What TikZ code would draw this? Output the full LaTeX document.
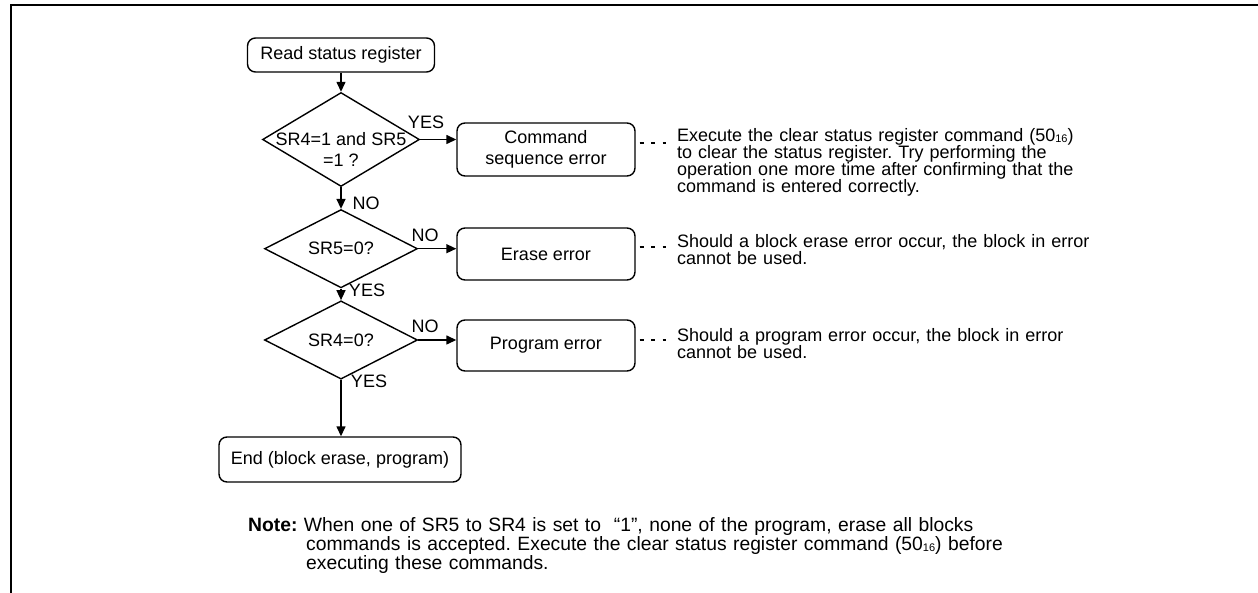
\documentclass[tikz,border=0pt]{standalone}
\usepackage{fontspec}
\setmainfont{Liberation Sans}
\usetikzlibrary{shapes.geometric,arrows.meta}
\newcommand\subnum[1]{{\fontsize{11}{11}\selectfont\raisebox{-1pt}{#1}}}
\frenchspacing
\begin{document}
\begin{tikzpicture}[x=1pt,y=-1pt,
  font=\fontsize{18}{21}\selectfont,
  flowbox/.style={draw, line width=1.4pt, rounded corners=8pt, inner sep=0pt, align=center, font=\fontsize{18}{21}\selectfont},
  decision/.style={draw, diamond, line width=1.4pt, inner sep=0pt},
  arr/.style={line width=1.4pt, -{Triangle[length=10pt,width=9pt]}},
  dots/.style={line width=2.2pt, dash pattern=on 4pt off 7.5pt},
  lbl/.style={inner sep=0pt},
  desc/.style={anchor=base west, inner sep=0pt, text width=560pt, align=left, font=\fontsize{18}{17}\selectfont, execute at begin node={\lineskiplimit=-20pt}}
]
\useasboundingbox (0,0) rectangle (1258,593);
\draw[line width=2pt] (10.5,593) -- (10.5,5.5) -- (1258,5.5);

\node[flowbox, minimum width=187pt, minimum height=34pt] (read) at (341,55) {Read status register};
\node[decision, minimum width=157pt, minimum height=94pt] (d1) at (341,139.5) {};
\node[lbl, align=center, font=\fontsize{18}{21}\selectfont] (d1t) at (341,149) {SR4=1 and SR5\\=1 ?};
\node[flowbox, minimum width=178pt, minimum height=53pt] (cmd) at (546,149.5) {Command\\sequence error};
\node[desc] (desc1) at (677,142) {Execute the clear status register command (50\subnum{16})\\to clear the status register. Try performing the\\operation one more time after confirming that the\\command is entered correctly.};

\node[decision, minimum width=153pt, minimum height=57pt] (d2) at (341,248.7) {SR5=0?};
\node[flowbox, minimum width=178pt, minimum height=52pt] (erase) at (546,254) {Erase error};
\node[desc] (desc2) at (677,248) {Should a block erase error occur, the block in error\\cannot be used.};

\node[decision, minimum width=153pt, minimum height=57pt] (d3) at (341,340) {SR4=0?};
\node[flowbox, minimum width=178pt, minimum height=51pt] (prog) at (546,345.5) {Program error};
\node[desc] (desc3) at (677,341.5) {Should a program error occur, the block in error\\cannot be used.};

\node[flowbox, minimum width=242pt, minimum height=45pt] (end) at (340,459.5) {End (block erase, program)};

\draw[arr] (read.south) -- (d1.north);
\draw[arr] (d1.east) -- (d1.east -| cmd.west);
\draw[arr] (d1.south) -- (d2.north);
\draw[arr] (d2.east) -- (d2.east -| erase.west);
\draw[arr] (d2.south) -- (d3.north);
\draw[arr] (d3.east) -- (d3.east -| prog.west);
\draw[arr] (d3.south) -- (d3.south |- end.north);

\coordinate (c1) at (666,143);
\coordinate (c2) at (666,247);
\coordinate (c3) at (666,340);
\draw[dots] ([xshift=4pt]cmd.east |- c1) -- (c1);
\draw[dots] ([xshift=4pt]erase.east |- c2) -- (c2);
\draw[dots] ([xshift=4pt]prog.east |- c3) -- (c3);

\node[lbl] (yes1) at (426,122) {YES};
\node[lbl] (no1) at (366,203) {NO};
\node[lbl] (no2) at (425,235) {NO};
\node[lbl] (yes2) at (367,290) {YES};
\node[lbl] (no3) at (425,326.5) {NO};
\node[lbl] (yes3) at (369,381.5) {YES};

\node[anchor=base west, inner sep=0pt, text width=900pt, align=left, font=\fontsize{19.3}{19}\selectfont] (note) at (248,531) {\textbf{Note:} When one of SR5 to SR4 is set to \ “1”, none of the program, erase all blocks\\\hspace*{58pt}commands is accepted. Execute the clear status register command (50\subnum{16}) before\\\hspace*{58pt}executing these commands.};
\end{tikzpicture}
\end{document}
